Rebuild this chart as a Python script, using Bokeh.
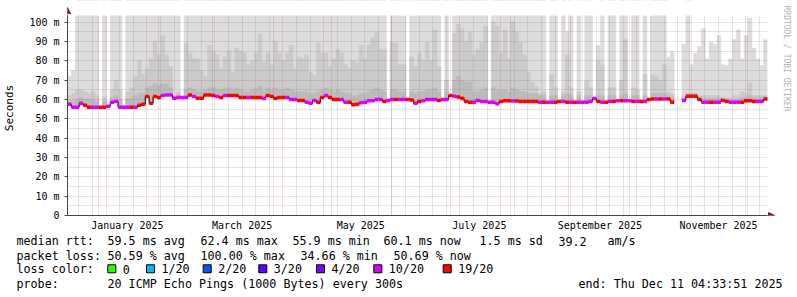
import math
from datetime import datetime, timedelta

from bokeh.plotting import figure
from bokeh.models import (Range1d, FixedTicker, Arrow, NormalHead,
                          ColumnDataSource)
from bokeh.embed import file_html
from bokeh.resources import INLINE
from bokeh.core.properties import value

N = float("nan")
F = 150.0  # max ping above the top of the chart

# ---------------- data ----------------
END_TEXT = "Thu Dec 11 04:33:51 2025"
SPAN_DAYS = 360
BIN_DAYS = 2

median_ms = [
    57.5, 56, 56, 58, 57, 56, 56, 56, 56, 56,
    56.5, 58.5, 59, 56, 56, 56, 56, 56, 57, 57.5,
    61.5, 58, 61.5, 61, 62, 62.3, 62.3, 60.6, 61, 61,
    61, 62.3, 61.5, 60.6, 60.6, 62.3, 62.3, 62, 61.5, 61,
    62, 62, 62, 62, 61, 61, 61, 61, 61, 61,
    60.5, 62, 61.5, 60.5, 61, 61, 61, 60, 60, 59.5,
    59.5, 58.6, 58, 59.5, 58.5, 61, 62, 61, 60, 60,
    60, 58.6, 58.6, 57.3, 57.5, 58.3, 58.5, 59.3, 59.3, 60,
    60, 59, 59.5, 60, 60, 60, 60, 60, 59.7, 58,
    59, 59.3, 60, 60, 60, 59.5, 60, 60, 62, 61.6,
    61.3, 60.5, 59, 58.5, 58.6, 59.5, 59, 59, 58.6, 58.6,
    57.8, 59, 59.3, 59.3, 59.2, 59.2, 59, 59, 59, 59,
    59, 58.6, 58.6, 58.6, 58.6, 58.6, 59, 59, 58.6, 58.6,
    58.6, 58.6, 58.6, 58.6, 59, 60.5, 59, 58.6, 58.6, 59,
    59, 59.3, 59.3, 59.3, 59.3, 59, 59, 59, 59, 60,
    60.2, 60.2, 60.2, 60.2, 60.2, 58.6, N, N, 59.5, 61.6,
    61.6, 61.6, 60, 58.6, 58.6, 58.6, 58.6, 58.6, 59.5, 59,
    58.6, 58.6, 58.6, 58.6, 59.3, 59.3, 59, 59, 59, 60.2,
]

loss_pct = [
    48, 47, 46, 49, 53, 52, 47, 48, 55, 54,
    49, 46, 47, 45, 48, 47, 53, 49, 54, 56,
    57, 55, 54, 53, 48, 47, 46, 49, 48, 47,
    48, 53, 49, 55, 54, 56, 57, 53, 49, 54,
    48, 55, 53, 54, 52, 56, 49, 55, 53, 54,
    47, 54, 55, 53, 56, 52, 48, 46, 47, 53,
    54, 48, 47, 49, 52, 55, 46, 53, 54, 52,
    49, 47, 53, 56, 55, 48, 46, 47, 45, 46,
    47, 52, 48, 46, 53, 47, 45, 54, 52, 48,
    53, 47, 46, 45, 46, 52, 47, 48, 55, 49,
    54, 53, 56, 55, 48, 46, 47, 45, 48, 46,
    47, 53, 54, 52, 49, 55, 56, 54, 53, 55,
    54, 48, 53, 47, 46, 52, 53, 48, 54, 47,
    52, 48, 46, 47, 49, 45, 53, 48, 52, 46,
    54, 47, 53, 48, 46, 55, 47, 52, 48, 54,
    55, 48, 56, 47, 54, 57, 49, 48, 46, 58,
    56, 55, 53, 47, 46, 52, 48, 47, 53, 54,
    48, 46, 47, 53, 55, 56, 52, 47, 48, 51,
]

smoke_max_ms = [
    72, 75, F, F, F, F, F, F, N, F,
    N, F, F, F, N, F, F, F, F, F,
    F, F, F, F, F, F, F, F, F, N,
    F, F, F, F, F, F, F, F, F, F,
    F, F, F, F, F, F, F, F, F, F,
    F, F, F, F, F, F, F, F, F, F,
    F, F, F, F, F, F, F, F, F, F,
    F, F, F, F, F, F, F, F, F, F,
    F, F, N, F, F, F, F, N, F, F,
    F, F, F, F, F, F, N, F, N, F,
    F, F, F, F, F, F, F, F, N, F,
    F, F, F, F, F, F, F, F, F, F,
    F, F, F, N, F, F, N, F, 95, F,
    N, F, N, F, F, N, 88, F, N, F,
    F, N, F, F, N, F, F, N, F, N,
    F, F, F, F, 82, 85, N, N, 88.6, F,
    78, 84, 87.5, 96.6, 81, 89.6, 88.6, 93, 78, 77.6,
    81, 91, 96, 81, 93, 102, 86.6, 81, 77.6, 91,
]

smoke_mid_ms = [
    62, 63, 65, 65, 64, 63, 64, 62, N, 61.5,
    N, 65, 70, 65, N, 64, 66, 72, 80, 73,
    76, 81, 90, 83, 93, 83, 77, 62, 64, N,
    89, 84, 81, 81, 75, 72, 88, 85, 83, 76,
    82, 85, 74, 86.5, 85, 84, 78, 80, 84, 94,
    79, 84, 78, 90, 84, 80, 84, 88, 76, 82,
    81, 83, 74, 72.5, 89, 84, 84, 77, 81, 86,
    84, 78, 76, 80, 79, 88, 81, 88, 92, 95,
    86, 86, N, 89.5, 89, 78, 78, N, 82, 77,
    84, 80, 89.5, 80, 96, 77, N, 70, N, 94,
    99, 96.6, 90, 95, 83, 86, 89.6, 98, N, 100,
    98, 84, 96, 81, 100, 95, 89.6, 83, 74, 69,
    66.5, 63, 64, N, 73, 66, N, 64, 83, 66,
    N, 64, N, 69.5, 66, N, 80, 78, N, 66,
    66, N, 70, 91, N, 66, 65, N, 73, N,
    73, 72, 70, 78, 64, 63, N, N, 62, 63,
    63, 63, 62, 62, 62, 62, 62, 62, 61, 61,
    61, 62, 62, 64, 63, 68.6, 62, 62, 62, 62,
]

smoke_low_ms = [
    59, 59, 60, 61, 60, 60, 60, 59, N, 59,
    N, 61, 62, 60, N, 60, 61, 62, 63, 63,
    66, 67, 68, 67, 68, 68, 66, 61.5, 62.5, N,
    65, 66, 65, 64, 64, 65, 66, 66, 65, 65,
    66, 66, 65, 66, 65, 64, 64, 65, 66, 67,
    64, 66, 65, 66, 65, 65, 66, 65, 64, 64,
    64, 64, 63, 63, 64, 65, 66, 65, 64, 65,
    64, 63, 63, 62, 62, 63, 63, 64, 65, 66,
    65, 64, N, 65, 65, 64, 64, N, 64, 63,
    64, 64, 65, 65, 66, 64, N, 64, N, 70,
    72, 70, 69, 69, 64, 64, 65, 66, N, 66,
    65, 64, 65, 64, 66, 65, 64, 64, 63, 63,
    63, 62, 62, N, 62, 62, N, 62, 63, 62,
    N, 62, N, 62, 62, N, 62, 62, N, 62,
    62, N, 62, 63, N, 62, 62, N, 62, N,
    63, 63, 63, 63, 62, 61, N, N, 61, 63,
    63, 63, 61.5, 60.5, 60.5, 60.5, 60.5, 60.5, 60.5, 60.5,
    60, 60, 60, 61, 61, 62, 61, 60.5, 61, 61.5,
]

x_label_months = ["January 2025", "March 2025", "May 2025", "July 2025",
                  "September 2025", "November 2025"]
y_ticks_ms = [0, 10, 20, 30, 40, 50, 60, 70, 80, 90, 100]
y_minor_ms = [5, 15, 25, 35, 45, 55, 65, 75, 85, 95]

loss_thresholds = [0, 1, 2, 3, 4, 10, 19]          # lost pings out of 20
loss_labels = ["0", "1/20", "2/20", "3/20", "4/20", "10/20", "19/20"]
loss_colors = ["#26ff00", "#00b8ff", "#0059ff", "#5e00ff", "#7e00ff",
               "#dd00ff", "#ff0000"]
PINGS = 20

stats_rtt = ["median rtt:", "59.5 ms avg", "62.4 ms max", "55.9 ms min",
             "60.1 ms now", "1.5 ms sd", "39.2", "am/s"]
stats_loss = ["packet loss:", "50.59 % avg", "100.00 % max", "34.66 % min",
              "50.69 % now"]
probe_text = ["probe:", "20 ICMP Echo Pings (1000 Bytes) every 300s",
              "end: " + END_TEXT]
watermark = "RRDTOOL / TOBI OETIKER"

# ---------------- derived ----------------
end_t = datetime.strptime(END_TEXT, "%a %b %d %H:%M:%S %Y")
start_t = end_t - timedelta(days=SPAN_DAYS)


def day_of(t):
    return (t - start_t).total_seconds() / 86400.0


nb = len(median_ms)
left = [BIN_DAYS * i for i in range(nb)]
right = [BIN_DAYS * (i + 1) for i in range(nb)]
centers = [BIN_DAYS * (i + 0.5) for i in range(nb)]


def loss_color(pct):
    lost = pct / 100.0 * PINGS
    for thr, col in zip(loss_thresholds, loss_colors):
        if lost <= thr:
            return col
    return loss_colors[-1]


colors = [loss_color(v) for v in loss_pct]

month_starts = []
t = datetime(start_t.year, start_t.month, 1)
while t <= end_t:
    if t >= start_t:
        month_starts.append(day_of(t))
    t = datetime(t.year + (t.month // 12), t.month % 12 + 1, 1)
sundays = []
t = datetime(start_t.year, start_t.month, start_t.day) + timedelta(days=1)
while t <= end_t:
    if t.weekday() == 6:
        sundays.append(day_of(t))
    t += timedelta(days=1)
label_pos = [day_of(datetime.strptime(s, "%B %Y") + timedelta(days=15))
             for s in x_label_months]

# ---------------- layout / styling ----------------
W, H = 797, 297
FL, FR, FT, FB = 67, 767, 15, 215   # chart area in canvas px
TOP_H = 233                          # height of the chart figure
Y_TOP = 103.4
px_day = SPAN_DAYS / (FR - FL)
px_ms = Y_TOP / (FB - FT)
MONO = "DejaVu Sans Mono"
AXIS_COL = "#4c4444"
ARROW_COL = "#7f1f1f"


def cx(px):
    return (px - FL) * px_day


def cy(py):
    return (FB - py) * px_ms


X_END = cx(W)
Y_END = cy(0)

p = figure(width=W, height=TOP_H, x_range=Range1d(0, X_END),
           y_range=Range1d(0, Y_END), output_backend="svg",
           toolbar_location=None, min_border_left=FL, min_border_right=0,
           min_border_top=0, min_border_bottom=TOP_H - FB,
           background_fill_color="white", border_fill_color="white",
           outline_line_color=None)

src = ColumnDataSource(dict(left=left, right=right, x=centers, med=median_ms,
                            hi=smoke_max_ms, mid=smoke_mid_ms,
                            lo=smoke_low_ms, color=colors))

for top, col in (("hi", "#dcdcdc"), ("mid", "#cbcbcb"), ("lo", "#bbbbbb")):
    r = p.quad(left="left", right="right", bottom="med", top=top, source=src,
               fill_color=col, line_color=col, line_width=0.5)
    r.level = "image"

# white margins above and right of the chart area (hide grid / smoke there)
p.quad(left=[0, SPAN_DAYS], right=[X_END, X_END], bottom=[Y_TOP, 0],
       top=[Y_END, Y_END], fill_color="white", line_color=None)

p.step(x="x", y="med", source=src, mode="center", line_color="black",
       line_width=1)
p.rect(x="x", y="med", width=BIN_DAYS, height=3.5, height_units="screen",
       source=src, fill_color="color", line_color=None)

# grid
p.xgrid.ticker = FixedTicker(ticks=month_starts, minor_ticks=sundays)
p.ygrid.ticker = FixedTicker(ticks=y_ticks_ms, minor_ticks=y_minor_ms)
for g in (p.xgrid[0], p.ygrid[0]):
    g.grid_line_color = "#c83c3c"
    g.grid_line_alpha = 0.32
    g.grid_line_dash = "1 1"
    g.minor_grid_line_color = "#8c8c8c"
    g.minor_grid_line_alpha = 0.45
    g.minor_grid_line_dash = "1 1"
    g.level = "underlay"

# axes
xa = p.xaxis[0]
xa.bounds = (0, SPAN_DAYS)
xa.ticker = FixedTicker(ticks=label_pos)
xa.major_label_overrides = dict(zip(label_pos, x_label_months))
xa.major_tick_out = 0
xa.major_tick_in = 0
xa.major_tick_line_color = None
xa.minor_tick_line_color = None
xa.major_label_standoff = 4
xa.axis_line_color = AXIS_COL
xa.major_label_text_font = MONO
xa.major_label_text_font_size = "10px"
xa.major_label_text_color = "black"

ya = p.yaxis[0]
ya.bounds = (0, Y_TOP)
ya.ticker = FixedTicker(ticks=y_ticks_ms)
ya.major_label_overrides = {v: (f"{v} m" if v else "0") for v in y_ticks_ms}
ya.major_tick_out = 3
ya.major_tick_in = 0
ya.major_tick_line_color = AXIS_COL
ya.minor_tick_line_color = None
ya.major_label_standoff = 5
ya.axis_line_color = AXIS_COL
ya.major_label_text_font = MONO
ya.major_label_text_font_size = "10px"
ya.major_label_text_color = "black"
ya.axis_label = "Seconds"
ya.axis_label_text_font = MONO
ya.axis_label_text_font_size = "11px"
ya.axis_label_text_font_style = "normal"
ya.axis_label_text_color = "black"
ya.axis_label_standoff = 10

p.add_layout(Arrow(x_start=SPAN_DAYS, y_start=0, x_end=cx(FR + 7),
                   y_end=0, line_color=AXIS_COL, line_width=1,
                   end=NormalHead(size=6, fill_color=ARROW_COL,
                                  line_color=ARROW_COL)))
p.add_layout(Arrow(x_start=0, y_start=Y_TOP, x_end=0, y_end=cy(FT - 8),
                   line_color=AXIS_COL, line_width=1,
                   end=NormalHead(size=6, fill_color=ARROW_COL,
                                  line_color=ARROW_COL)))

p.text(x=[cx(786)], y=[cy(5)], text=[watermark], angle=-math.pi / 2,
       text_align="left", text_baseline="middle", text_font=value(MONO),
       text_font_size=value("8px"), text_color="#b4b4b4")

# ---------------- legend figure (separate root, no frame alignment) -------
LEG_H = H - TOP_H
q = figure(width=W, height=LEG_H, x_range=Range1d(0, W),
           y_range=Range1d(LEG_H, 0), output_backend="svg",
           toolbar_location=None, x_axis_location=None,
           y_axis_location=None, min_border=0,
           background_fill_color="white", border_fill_color="white",
           outline_line_color=None)
q.grid.visible = False

row_py = [240.7, 255.0, 268.7, 283.0]
row_y = [v - TOP_H for v in row_py]
rtt_px = [16, 107, 200, 292, 383, 479, 558, 607]
loss_px = [16, 107, 200, 300, 393]
probe_px = [16, 107, 578]
box_px = [107.3, 146, 202.7, 258.3, 316, 373.3, 442.7]

items = []
items += [(s, x, row_y[0]) for s, x in zip(stats_rtt, rtt_px)]
items += [(s, x, row_y[1]) for s, x in zip(stats_loss, loss_px)]
items += [("loss color:", 16, row_y[2])]
items += [(s, x + 15, row_y[2]) for s, x in zip(loss_labels, box_px)]
items += [(s, x, row_y[3]) for s, x in zip(probe_text, probe_px)]

q.text(x=[i[1] for i in items], y=[i[2] for i in items],
       text=[i[0] for i in items], text_font=value(MONO),
       text_font_size=value("11.7px"), text_baseline="middle",
       text_align="left", text_color="black")
q.rect(x=[b + 4 for b in box_px], y=[row_y[2] - 0.4] * len(box_px), width=8,
       height=8, fill_color=loss_colors, line_color="black", line_width=1)

open("out.html", "w").write(file_html([p, q], INLINE))
